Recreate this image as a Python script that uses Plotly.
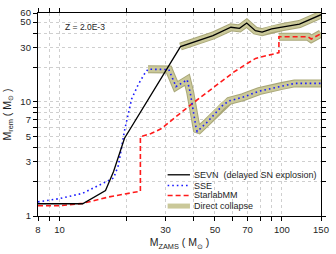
import plotly.graph_objects as go

# ---- data ----
sevn_x = [8, 12.7, 16.1, 17.5, 19.6, 35, 49, 59, 64.5, 69.5, 76, 81.5, 90, 100, 120, 150]
sevn_y = [1.28, 1.28, 1.67, 2.45, 4.8, 30.5, 38, 45, 44, 49, 42, 40.8, 43.5, 45, 48, 58]

sse_x = [8, 10, 12.7, 16.1, 17.5, 18.4, 19.05, 19.6, 21.1, 22.6, 24.2, 25, 31, 33.4, 37.5, 38.7,
         41.2, 41.6, 46, 54.4, 58, 67, 79, 100, 114, 150]
sse_y = [1.33, 1.42, 1.58, 1.96, 2.15, 2.78, 4.2, 5.6, 10.6, 14.2, 17.8, 19.3, 19.2, 13.6, 15.6, 12.1,
         5.8, 5.5, 6.6, 9.4, 10.2, 11.0, 12.4, 13.8, 14.5, 14.5]

slab_x = [8, 10, 12.7, 16.7, 23.1, 23.1, 25.8, 28.6, 39.4, 49.2, 61.2, 71.3, 76.2, 97, 97, 131, 135.6, 150]
slab_y = [1.23, 1.23, 1.29, 1.47, 1.65, 4.94, 5.28, 5.8, 9.6, 13.3, 18.4, 22.2, 24.0, 27, 37.2, 37.2, 35.5, 39.6]

# direct-collapse portions (start index into each series)
dc_start_sevn = 5
dc_start_sse = 11
dc_start_slab = 14

x_tickvals = [8, 9, 10, 20, 30, 40, 50, 60, 70, 80, 90, 100, 150]
x_ticklabels = ["8", "", "10", "", "30", "", "50", "", "70", "", "", "100", "150"]
y_tickvals = [1, 2, 3, 4, 5, 6, 7, 8, 9, 10, 20, 30, 40, 50, 60]
y_ticklabels = ["1", "", "3", "", "5", "", "7", "", "", "10", "", "30", "", "50", "60"]

legend_names = ["SEVN  (delayed SN explosion)", "SSE", "StarlabMM", "Direct collapse"]

FONT = "Liberation Sans, Arial, sans-serif"
TXT = "#1e1e1e"
DC_EDGE = "#a9a778"
DC_FILL = "#cac899"

fig = go.Figure()

for xs, ys, i0 in [(sevn_x, sevn_y, dc_start_sevn), (sse_x, sse_y, dc_start_sse), (slab_x, slab_y, dc_start_slab)]:
    fig.add_trace(go.Scatter(x=xs[i0:], y=ys[i0:], mode="lines", line=dict(color=DC_EDGE, width=8),
                             showlegend=False, hoverinfo="skip"))
    fig.add_trace(go.Scatter(x=xs[i0:], y=ys[i0:], mode="lines", line=dict(color=DC_FILL, width=6),
                             showlegend=False, hoverinfo="skip"))

fig.add_trace(go.Scatter(x=slab_x, y=slab_y, mode="lines",
                         line=dict(color="#ff1a1a", width=1.6, dash="5px,3px"), showlegend=False))
fig.add_trace(go.Scatter(x=sse_x, y=sse_y, mode="lines",
                         line=dict(color="#1a1aff", width=1.6, dash="1.6px,3px"), showlegend=False))
fig.add_trace(go.Scatter(x=sevn_x, y=sevn_y, mode="lines",
                         line=dict(color="black", width=1.3), showlegend=False))

# manual legend
leg_y = [0.203, 0.150, 0.101, 0.049]
x0, x1, xt = 0.458, 0.537, 0.543
styles = [dict(color="black", width=1.3),
          dict(color="#1a1aff", width=1.6, dash="1.6px,3px"),
          dict(color="#ff1a1a", width=1.6, dash="5px,3px"),
          dict(color=DC_FILL, width=5)]
shapes = []
annotations = []
for yy, st, name in zip(leg_y, styles, legend_names):
    shapes.append(dict(type="line", xref="paper", yref="paper", x0=x0, x1=x1, y0=yy, y1=yy, line=st))
    annotations.append(dict(xref="paper", yref="paper", x=xt, y=yy, text=name, showarrow=False,
                            xanchor="left", yanchor="middle", font=dict(size=9, color=TXT, family=FONT)))

annotations.append(dict(xref="paper", yref="paper", x=0.088, y=0.93, text="Z = 2.0E-3", showarrow=False,
                        xanchor="left", yanchor="middle", font=dict(size=8.5, color=TXT, family=FONT)))

axis_common = dict(type="log", showline=True, linecolor="black", linewidth=1.3, mirror="ticks",
                   ticks="outside", ticklen=4, tickwidth=1, tickcolor="black",
                   showgrid=True, gridcolor="#cfcfcf", gridwidth=0.8, griddash="dot",
                   zeroline=False, tickfont=dict(size=9.5, color=TXT, family=FONT))

fig.update_layout(
    width=336, height=254,
    margin=dict(l=38, r=9, t=7, b=34),
    plot_bgcolor="white", paper_bgcolor="white",
    showlegend=False,
    shapes=shapes, annotations=annotations,
    xaxis=dict(axis_common, range=[0.90309, 2.17609], tickvals=x_tickvals, ticktext=x_ticklabels,
               title=dict(text="M<sub>ZAMS</sub> ( M<sub>⊙</sub> )", standoff=5,
                          font=dict(size=10.5, color=TXT, family=FONT))),
    yaxis=dict(axis_common, range=[0, 1.77815], tickvals=y_tickvals, ticktext=y_ticklabels,
               title=dict(text="M<sub>rem</sub> ( M<sub>⊙</sub> )", standoff=6,
                          font=dict(size=10.5, color=TXT, family=FONT))),
)

fig.write_html("out.html", config={"displayModeBar": False},
               post_script="document.body.style.margin='0';document.body.style.overflow='hidden';")
